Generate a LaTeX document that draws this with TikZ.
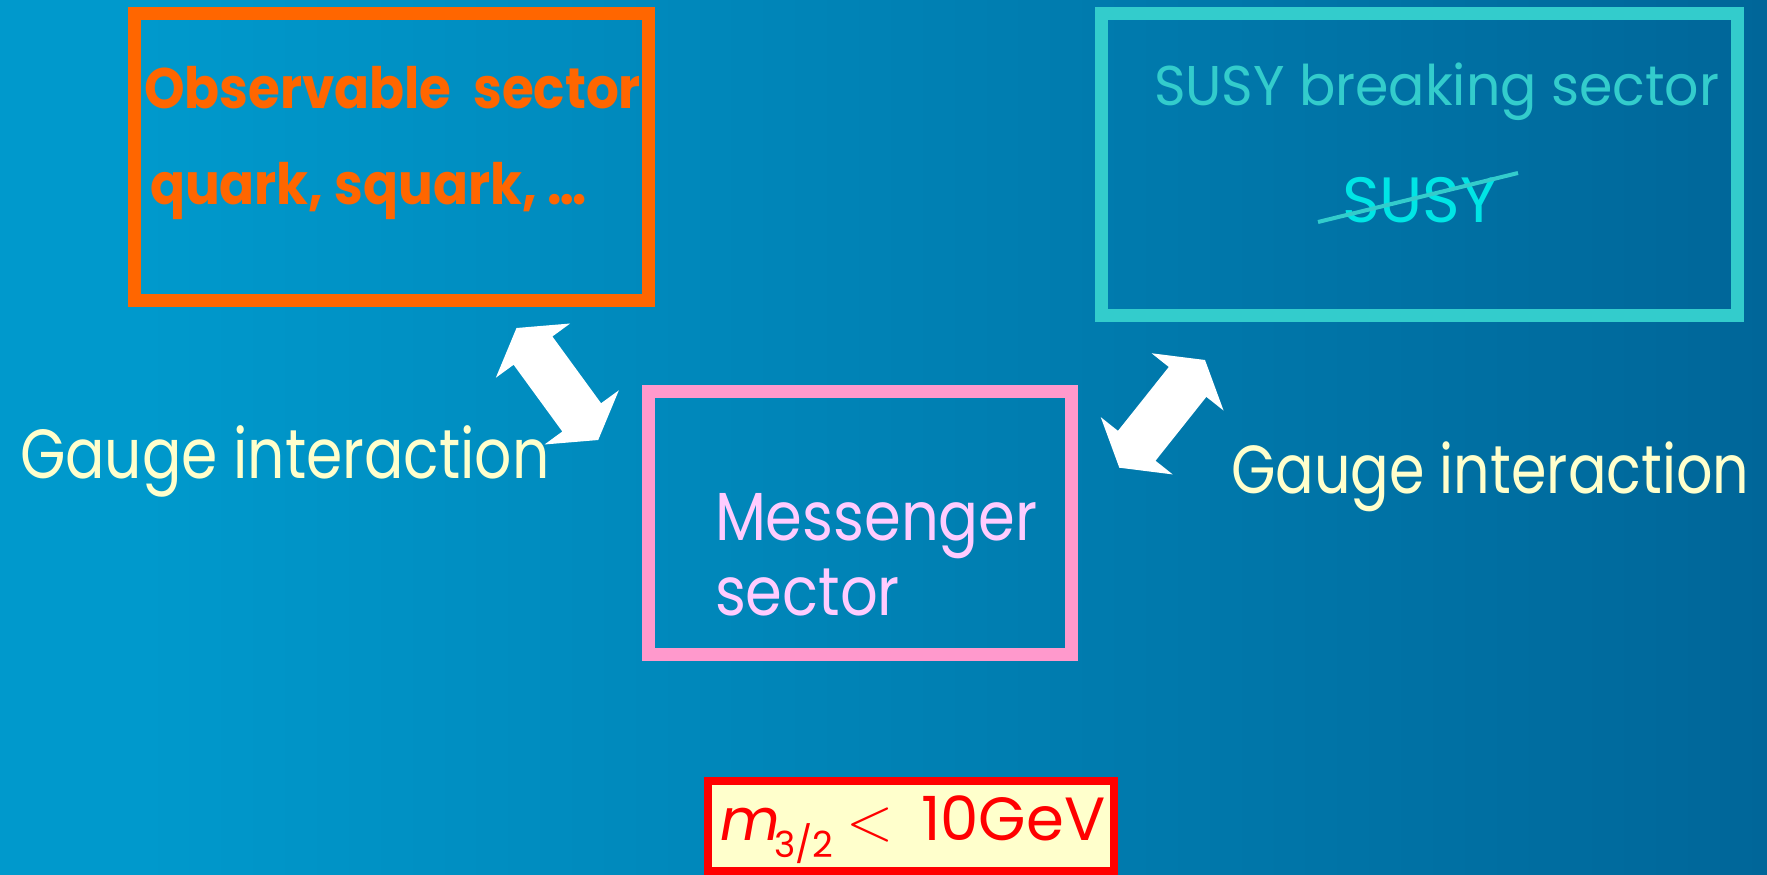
\documentclass[tikz,border=0pt]{standalone}
\usepackage{fontspec}
\setmainfont{Poppins}
\newfontfamily\obsfont[FakeStretch=0.905]{Poppins}
\newfontfamily\susyfont[FakeStretch=0.96]{Poppins}
\newfontfamily\msgfont[FakeStretch=0.87]{Poppins}
\newfontfamily\gaugefont[FakeStretch=0.84]{Poppins}
\usetikzlibrary{calc}

\definecolor{bgleft}{HTML}{0099CC}
\definecolor{bgright}{HTML}{006699}
\definecolor{obsorange}{HTML}{FF6600}
\definecolor{susyteal}{HTML}{33CCCC}
\definecolor{susycyan}{HTML}{00E5E5}
\definecolor{msgpink}{HTML}{FF99CC}
\definecolor{msgtext}{HTML}{FFCCFF}
\definecolor{gaugetext}{HTML}{FFFFCC}
\definecolor{boundred}{HTML}{FF0000}
\definecolor{boundfill}{HTML}{FFFFCC}

\pgfdeclarehorizontalshading{slidebg}{100bp}{color(0bp)=(bgleft); color(29bp)=(bgleft); color(75bp)=(bgright); color(100bp)=(bgright)}

% fat double-headed block arrow between two named tip points
\newcommand\blockarrow[2]{%
  \fill[fatarrow] (#1)
    -- ($(#1)!28pt!(#2)!46pt!90:(#2)$)
    -- ($(#1)!28pt!(#2)!24pt!90:(#2)$)
    -- ($(#2)!28pt!(#1)!24pt!-90:(#1)$)
    -- ($(#2)!28pt!(#1)!46pt!-90:(#1)$)
    -- (#2)
    -- ($(#2)!28pt!(#1)!46pt!90:(#1)$)
    -- ($(#2)!28pt!(#1)!24pt!90:(#1)$)
    -- ($(#1)!28pt!(#2)!24pt!-90:(#2)$)
    -- ($(#1)!28pt!(#2)!46pt!-90:(#2)$)
    -- cycle;}

\begin{document}
\begin{tikzpicture}[x=1pt,y=-1pt,
  sectorbox/.style={draw, rectangle, line width=13pt, inner sep=0pt, outer sep=0pt},
  txt/.style={anchor=base west, inner sep=0pt, outer sep=0pt},
  fatarrow/.style={white},
  strike/.style={draw=susyteal, line width=4pt},
  boundtxt/.style={txt, text=boundred, font=\fontsize{61}{61}\selectfont}]

\useasboundingbox (0,0) rectangle (1767,875);
\shade[shading=slidebg] (0,0) rectangle (1767,875);

% sector boxes
\node[sectorbox, draw=obsorange, minimum width=514pt, minimum height=287pt] (obs) at (391,157) {};
\node[sectorbox, draw=susyteal, minimum width=636pt, minimum height=302pt] (susy) at (1419.5,164.5) {};
\node[sectorbox, draw=msgpink, minimum width=423pt, minimum height=262.5pt] (msg) at (860,522.75) {};

% texts of the observable sector
\node[txt, text=obsorange, font=\obsfont\bfseries\fontsize{57}{57}\selectfont] (obst) at (144,108) {Observable~~sector};
\node[txt, text=obsorange, font=\obsfont\bfseries\fontsize{57}{57}\selectfont] (obsq) at (150,204) {quark, squark, …};

% texts of the SUSY breaking sector
\node[txt, text=susyteal, font=\susyfont\fontsize{56}{56}\selectfont] (susyt) at (1154,105) {SUSY breaking sector};
\node[txt, text=susycyan, font=\fontsize{64}{64}\selectfont] (susyx) at (1342,222) {SUSY};
\coordinate (s1) at (1318,222);
\coordinate (s2) at (1518,173);
\draw[strike] (s1) -- (s2);

% texts of the messenger sector
\node[txt, text=msgtext, font=\msgfont\fontsize{68}{68}\selectfont] (msgt) at (715,540) {Messenger};
\node[txt, text=msgtext, font=\msgfont\fontsize{68}{68}\selectfont] (msgs) at (715,615) {sector};

% gauge interaction arrows
\coordinate (la1) at (516.5,328);
\coordinate (la2) at (598.2,440);
\coordinate (ra1) at (1205,360);
\coordinate (ra2) at (1119.3,467.7);
\blockarrow{la1}{la2}
\blockarrow{ra1}{ra2}

\node[txt, text=gaugetext, font=\gaugefont\fontsize{69.5}{69.5}\selectfont] (gl) at (20,478) {Gauge interaction};
\node[txt, text=gaugetext, font=\gaugefont\fontsize{68}{68}\selectfont] (gr) at (1231,493) {Gauge interaction};

% gravitino mass bound
\node[sectorbox, line width=8pt, draw=boundred, fill=boundfill, minimum width=406.5pt, minimum height=90pt] (bound) at (910.75,826) {};
\node[boundtxt, font=\fontsize{58}{58}\selectfont] (bm) at (720,840) {\itshape m};
\node[boundtxt, font=\fontsize{36}{36}\selectfont] (bsub) at (774,857) {3/2};
\node[boundtxt, font=\fontfamily{lmr}\fontsize{62}{62}\selectfont] (blt) at (846,840) {<};
\node[boundtxt] (bval) at (921,840) {10GeV};
\end{tikzpicture}
\end{document}
